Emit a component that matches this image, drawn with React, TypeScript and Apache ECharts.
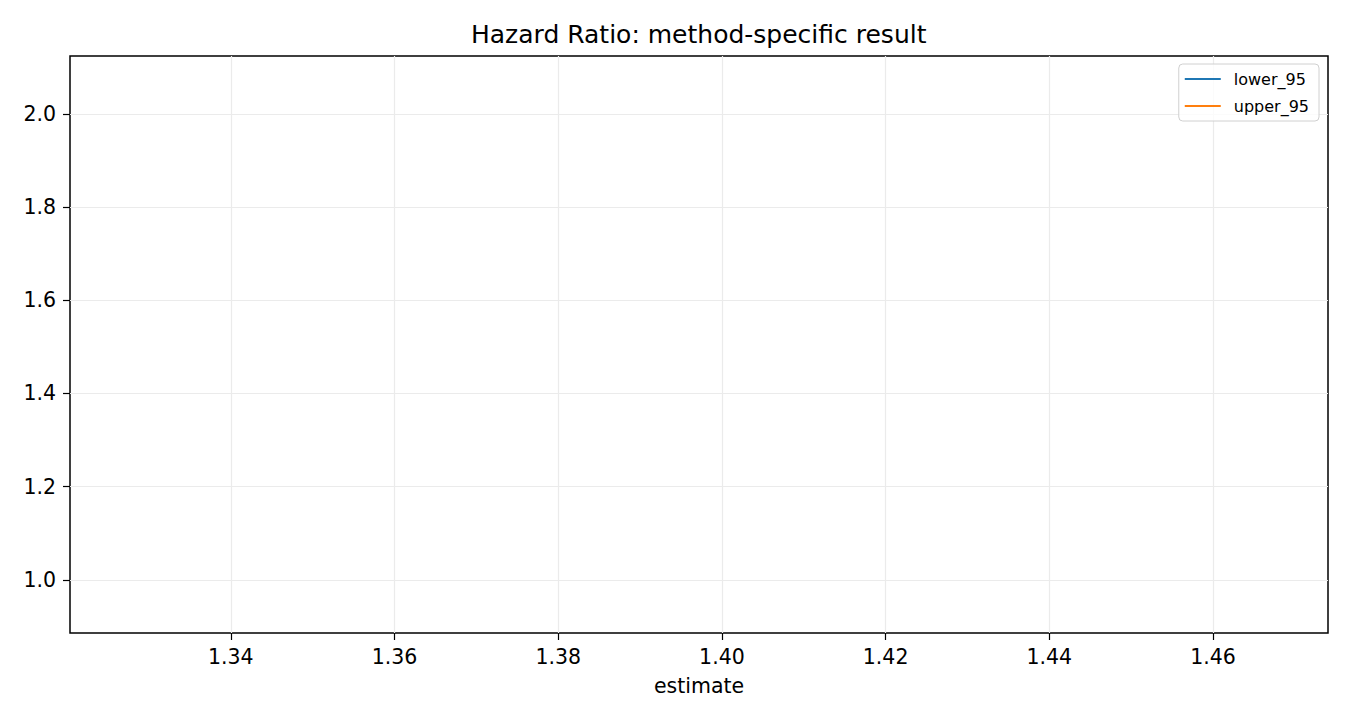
import React, { useEffect, useRef } from "react";
import * as echarts from "echarts";

const estimate = [1.3972];
const lower95 = [0.942];
const upper95 = [2.068];
const xTicks = [1.34, 1.36, 1.38, 1.4, 1.42, 1.44, 1.46];
const yTicks = [1.0, 1.2, 1.4, 1.6, 1.8, 2.0];
const seriesNames = ["lower_95", "upper_95"];
const colors = ["#1f77b4", "#ff7f0e"];

const FONT = "DejaVu Sans";

export default function App() {
  const ref = useRef<HTMLDivElement>(null);
  useEffect(() => {
    if (!ref.current) return;
    const chart = echarts.init(ref.current, undefined, { renderer: "svg" });
    // matplotlib-like autoscale: single x value expanded by 5%, then 5% margins
    const xv = estimate[0];
    const xLo = xv * 0.95, xHi = xv * 1.05;
    const xPad = (xHi - xLo) * 0.05;
    const yLo = Math.min(...lower95, ...upper95);
    const yHi = Math.max(...lower95, ...upper95);
    const yPad = (yHi - yLo) * 0.05;
    const tickStyle = { show: true, inside: false, length: 7, lineStyle: { color: "#000", width: 1.2 } };
    chart.setOption({
      animation: false,
      backgroundColor: "#fff",
      color: colors,
      title: {
        text: "Hazard Ratio: method-specific result",
        left: 466,
        top: 17,
        padding: 5,
        textStyle: { fontFamily: FONT, fontSize: 25, fontWeight: "normal", color: "#000" },
      },
      legend: {
        orient: "vertical",
        right: 31,
        top: 64,
        data: seriesNames,
        icon: "rect",
        itemWidth: 36,
        itemHeight: 2,
        itemGap: 9,
        padding: [6, 10, 6, 6],
        borderColor: "#d0d0d0",
        borderWidth: 1,
        borderRadius: 4,
        backgroundColor: "rgba(255,255,255,0.8)",
        textStyle: { fontFamily: FONT, fontSize: 16, color: "#000", lineHeight: 18, padding: [0, 0, 0, 8] },
      },
      grid: {
        left: 70,
        right: 22,
        top: 56,
        bottom: 87,
        show: true,
        borderColor: "#000",
        borderWidth: 1.5,
        backgroundColor: "#fff",
      },
      xAxis: {
        type: "value",
        min: xLo - xPad,
        max: xHi + xPad,
        name: "estimate",
        nameLocation: "middle",
        nameGap: 42,
        nameTextStyle: { fontFamily: FONT, fontSize: 20.5, color: "#000" },
        axisLine: { show: false },
        axisTick: { ...tickStyle, customValues: xTicks },
        axisLabel: {
          customValues: xTicks,
          margin: 13,
          fontFamily: FONT,
          fontSize: 20.5,
          color: "#000",
          formatter: (v: number) => v.toFixed(2),
        },
        splitLine: { show: true, lineStyle: { color: "#ebebeb", width: 1.2 } },
      },
      yAxis: {
        type: "value",
        min: yLo - yPad,
        max: yHi + yPad,
        axisLine: { show: false },
        axisTick: { ...tickStyle, customValues: yTicks },
        axisLabel: {
          customValues: yTicks,
          margin: 14,
          fontFamily: FONT,
          fontSize: 20.5,
          color: "#000",
          formatter: (v: number) => v.toFixed(1),
        },
        splitLine: { show: true, lineStyle: { color: "#ebebeb", width: 1.2 } },
      },
      series: [
        {
          name: seriesNames[0],
          type: "line",
          showSymbol: false,
          lineStyle: { width: 2 },
          data: estimate.map((x, i) => [x, lower95[i]]),
        },
        {
          name: seriesNames[1],
          type: "line",
          showSymbol: false,
          lineStyle: { width: 2 },
          data: estimate.map((x, i) => [x, upper95[i]]),
        },
      ],
    });
    return () => chart.dispose();
  }, []);
  return (
    <div
      ref={ref}
      style={{ position: "fixed", left: 0, top: 0, width: 1350, height: 720 }}
    />
  );
}
